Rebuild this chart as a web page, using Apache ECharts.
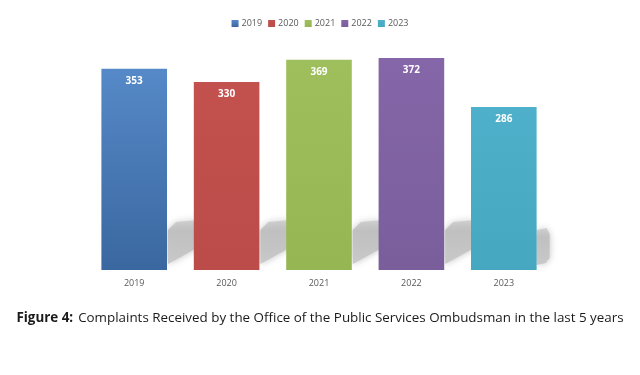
<!DOCTYPE html>
<html><head><meta charset="utf-8">
<script src="https://cdn.jsdelivr.net/npm/echarts@6/dist/echarts.min.js"></script>
<style>html,body{margin:0;padding:0;background:#fff}#c{width:640px;height:375px}</style>
</head><body><div id="c"></div>
<script>
var categories = ['2019','2020','2021','2022','2023'];
var seriesNames = ['2019','2020','2021','2022','2023'];
var values = [353, 330, 369, 372, 286];
var topColors = ['#5689c8','#c3514e','#9fbf5c','#8566a8','#4eb0ca'];
var bottomColors = ['#3a679f','#bb4c49','#96b653','#7a5e9c','#46a7c0'];

var chart = echarts.init(document.getElementById('c'));
var series = [];
series.push({
  type: 'custom',
  name: 'shadow',
  silent: true,
  z: 1,
  data: values.map(function(v,i){ return [i, v]; }),
  renderItem: function(params, api){
    var base = api.coord([api.value(0), 0]);
    var w = api.size([1, 0])[0] * 0.71;
    var xr = base[0] + w/2;
    var yb = base[1];
    var last = params.dataIndex === values.length - 1;
    var pts = last
      ? [[xr, yb-40], [xr+10, yb-42], [xr+13, yb-36], [xr+13, yb-12], [xr+9, yb-7], [xr, yb-5]]
      : [[xr+1, yb-40], [xr+9, yb-48], [xr+30, yb-50], [xr+30, yb-22], [xr+1, yb-6]];
    return {
      type: 'polygon',
      shape: { points: pts },
      style: { fill: new echarts.graphic.LinearGradient(0,0,0,1,[{offset:0,color:'rgba(200,200,200,0.7)'},{offset:0.25,color:'rgba(192,192,192,1)'},{offset:1,color:'rgba(200,200,200,0.95)'}]),
        shadowBlur: 7, shadowColor: 'rgba(190,190,190,1)' }
    };
  }
});
seriesNames.forEach(function(name, i){
  var d = categories.map(function(c, j){ return j === i ? values[i] : '-'; });
  series.push({
    type: 'bar', name: name, data: d, z: 3,
    barWidth: '71%', barGap: '-100%',
    itemStyle: { color: new echarts.graphic.LinearGradient(0,0,0,1,[{offset:0,color:topColors[i]},{offset:1,color:bottomColors[i]}]) },
    label: { show: true, position: 'insideTop', distance: 7, color: '#fff', fontWeight: 'bold', fontSize: 10, fontFamily: 'Open Sans' }
  });
});

chart.setOption({
  animation: false,
  color: topColors,
  legend: {
    data: seriesNames, top: 14, left: 'center', itemWidth: 7, itemHeight: 7, itemGap: 6,
    icon: 'rect', textStyle: { color: '#595959', fontSize: 9, fontFamily: 'Open Sans', padding: [0,0,0,-2] }
  },
  title: {
    text: '{b|Figure 4:} {n|Complaints Received by the Office of the Public Services Ombudsman in the last 5 years}',
    left: 'center', top: 304,
    textStyle: { fontWeight: 'normal', rich: {
      b: { fontWeight: 'bold', fontSize: 13.4, color: '#1a1a1a', fontFamily: 'Open Sans' },
      n: { fontWeight: 'normal', fontSize: 13.4, color: '#1a1a1a', fontFamily: 'Open Sans' }
    } }
  },
  grid: { left: 88, right: 90, top: 42, bottom: 105 },
  xAxis: {
    type: 'category', data: categories,
    axisLine: { show: false }, axisTick: { show: false },
    axisLabel: { color: '#595959', fontSize: 9, fontFamily: 'Open Sans', margin: 9 }
  },
  yAxis: { type: 'value', min: 0, max: 400, show: false, splitLine: { show: false } },
  series: series
});
</script></body></html>
